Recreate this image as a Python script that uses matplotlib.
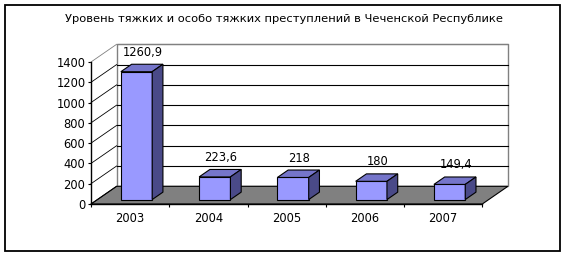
import matplotlib
matplotlib.use("Agg")
import matplotlib.pyplot as plt
from matplotlib.patches import Polygon, Rectangle

# ---- data ----
years = ["2003", "2004", "2005", "2006", "2007"]
values = [1260.9, 223.6, 218, 180, 149.4]
value_labels = ["1260,9", "223,6", "218", "180", "149,4"]
yticks = [0, 200, 400, 600, 800, 1000, 1200, 1400]
title = "Уровень тяжких и особо тяжких преступлений в Чеченской Республике"

# ---- figure / layout ----
W, H = 566, 257
fig = plt.figure(figsize=(W / 100, H / 100), dpi=100)
fig.patch.set_facecolor("white")

# front plane of the 3D box (pixels in image coordinates)
fx0, fx1, fy0, fy1 = 91, 482.3, 204, 62
ax = fig.add_axes([fx0 / W, (H - fy0) / H, (fx1 - fx0) / W, (fy0 - fy1) / H])
n = len(years)
ymax = yticks[-1]
ax.set_xlim(0, n)
ax.set_ylim(0, ymax)
ax.patch.set_visible(False)

# depth offset (pixels) converted to data units
px_per_cat = (fx1 - fx0) / n
px_per_val = (fy0 - fy1) / ymax
DX = 25.6 / px_per_cat
DY = 17.7 / px_per_val


def P(x, v, z):
    return (x + z * DX, v + z * DY)


# floor
floor = Polygon([P(0, 0, 0), P(n, 0, 0), P(n, 0, 1), P(0, 0, 1)], closed=True,
                facecolor="#808080", edgecolor="black", lw=0.8, zorder=1, clip_on=False)
ax.add_patch(floor)

# back wall
wall = Polygon([P(0, 0, 1), P(n, 0, 1), P(n, ymax, 1), P(0, ymax, 1)], closed=True,
               facecolor="white", edgecolor="#808080", lw=1.0, zorder=0.5, clip_on=False)
ax.add_patch(wall)

# gridlines on back wall and left wall
for t in yticks:
    c = "black" if t < ymax else "#808080"
    xa, ya = P(0, t, 1)
    xb, yb = P(n, t, 1)
    if t > 0:
        ax.plot([xa, xb], [ya, yb], color=c, lw=0.8, zorder=2, clip_on=False)
    x0_, y0_ = P(0, t, 0)
    ax.plot([x0_, xa], [y0_, ya], color=c, lw=0.6, zorder=2, clip_on=False)

# bars
z0, z1 = 0.25, 0.67
bw0, bw1 = 0.3, 0.7
front_c, top_c, side_c = "#9999FF", "#7575CA", "#4A4A88"
for i, (v, lab) in enumerate(zip(values, value_labels)):
    xa, xb = i + bw0, i + bw1
    front = Polygon([P(xa, 0, z0), P(xb, 0, z0), P(xb, v, z0), P(xa, v, z0)],
                    facecolor=front_c, edgecolor="black", lw=0.8, zorder=4, clip_on=False)
    top = Polygon([P(xa, v, z0), P(xb, v, z0), P(xb, v, z1), P(xa, v, z1)],
                  facecolor=top_c, edgecolor="black", lw=0.8, zorder=4, clip_on=False)
    side = Polygon([P(xb, 0, z0), P(xb, v, z0), P(xb, v, z1), P(xb, 0, z1)],
                   facecolor=side_c, edgecolor="black", lw=0.8, zorder=4, clip_on=False)
    for p in (front, top, side):
        ax.add_patch(p)
    lx, ly = P((xa + xb) / 2, v, z0)
    ax.annotate(lab, (lx, ly), xytext=(4.5, 14), textcoords="offset points",
                ha="center", va="center", fontsize=8.3, color="black",
                zorder=6, annotation_clip=False)

# axes styling
for s in ("top", "right"):
    ax.spines[s].set_visible(False)
for s in ("left", "bottom"):
    ax.spines[s].set_color("black")
    ax.spines[s].set_linewidth(1.0)
    ax.spines[s].set_zorder(3)

ax.set_yticks(yticks)
ax.set_yticklabels([str(t) for t in yticks])
ax.tick_params(axis="y", direction="out", length=2.5, width=0.8, pad=1.5,
               labelsize=8.3, colors="black")
ax.set_xticks(range(n + 1))
ax.set_xticklabels([])
ax.set_xticks([i + 0.5 for i in range(n)], minor=True)
ax.set_xticklabels(years, minor=True)
ax.tick_params(axis="x", which="major", direction="out", length=2.5, width=0.8)
ax.tick_params(axis="x", which="minor", length=0, pad=6.0, labelsize=8.3)

# title
fig.text(284 / W, 1 - 19.5 / H, title, ha="center", va="center", fontsize=8.25)

# outer border
fig.add_artist(Rectangle((5 / W, (H - 251) / H), 555 / W, 246 / H,
                         transform=fig.transFigure, fill=False,
                         edgecolor="black", lw=1.3))

fig.savefig("out.png", dpi=100)
